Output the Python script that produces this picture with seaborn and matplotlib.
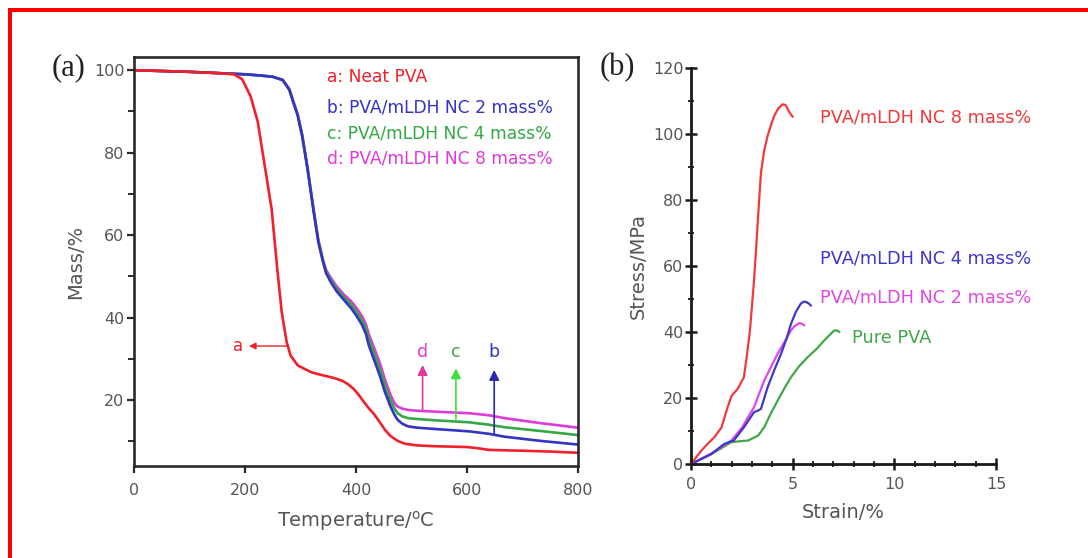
import numpy as np
import pandas as pd
import matplotlib
matplotlib.use("Agg")
import matplotlib.pyplot as plt
from matplotlib.lines import Line2D
from matplotlib.ticker import MultipleLocator
import seaborn as sns

# ---- (a) TGA curves: temperature (°C) vs residual mass (%) ----
temp_a = [0, 50, 100, 150, 180, 195, 210, 223, 235, 248, 258, 266, 275, 282, 295,
          320, 340, 359, 375, 385, 395, 404, 415, 423, 433, 443, 452, 462, 475,
          488, 510, 540, 600, 620, 640, 700, 750, 800]
mass_a = [100, 99.8, 99.6, 99.3, 99.0, 97.8, 93.7, 87.5, 77.3, 66.3, 52.0, 41.5, 34.1,
          30.8, 28.4, 26.7, 26.0, 25.4, 24.7, 23.9, 22.8, 21.4, 19.4, 18.0, 16.5, 14.6,
          12.8, 11.3, 10.1, 9.4, 9.0, 8.8, 8.6, 8.3, 7.9, 7.7, 7.5, 7.2]

temp_b = [0, 50, 100, 150, 200, 229, 250, 268, 280, 287, 295, 303, 313, 323, 332, 340,
          346, 355, 365, 378, 391, 401, 411, 418, 423, 433, 443, 452, 462, 469, 475,
          484, 494, 510, 540, 604, 640, 668, 732, 800]
mass_b = [100, 99.8, 99.6, 99.3, 99.0, 98.7, 98.4, 97.6, 95.2, 92.2, 89.0, 84.0, 75.7,
          66.3, 58.4, 53.8, 50.8, 48.5, 46.4, 44.3, 42.3, 40.4, 38.2, 36.0, 33.3, 29.6,
          25.9, 22.0, 18.5, 16.5, 15.2, 14.2, 13.6, 13.3, 13.0, 12.4, 11.8, 11.1, 10.1, 9.2]

temp_c = temp_b
mass_c = [100, 99.8, 99.6, 99.3, 99.0, 98.7, 98.4, 97.6, 95.3, 92.3, 89.1, 84.2, 75.9,
          66.5, 58.7, 54.0, 51.2, 49.0, 47.0, 45.0, 43.2, 41.4, 39.3, 37.2, 34.8, 31.2,
          27.5, 23.6, 20.0, 18.0, 16.8, 16.0, 15.6, 15.4, 15.1, 14.6, 14.0, 13.4, 12.5, 11.5]

temp_d = temp_b
mass_d = [100, 99.8, 99.6, 99.3, 99.0, 98.7, 98.4, 97.7, 95.4, 92.5, 89.3, 84.4, 76.2,
          66.8, 59.0, 54.3, 51.6, 49.6, 47.6, 45.6, 44.0, 42.3, 40.3, 38.3, 36.0, 32.5,
          29.0, 25.0, 21.3, 19.3, 18.4, 17.9, 17.6, 17.4, 17.2, 16.8, 16.3, 15.6, 14.4, 13.3]

tga_labels = ["a: Neat PVA", "b: PVA/mLDH NC 2 mass%",
              "c: PVA/mLDH NC 4 mass%", "d: PVA/mLDH NC 8 mass%"]

# ---- (b) stress-strain curves ----
strain_8 = [0, 0.25, 0.5, 0.8, 1.15, 1.5, 1.8, 2.0, 2.3, 2.6, 2.75, 2.9, 3.0, 3.1, 3.2,
            3.3, 3.44, 3.6, 3.77, 3.95, 4.1, 4.3, 4.5, 4.65, 4.75, 4.85, 5.0]
stress_8 = [0, 2, 4, 6, 8.1, 11.1, 17.2, 20.7, 22.8, 26.3, 33, 40.5, 48, 55.7, 65,
            75, 88.3, 95, 99.5, 103, 105.6, 107.8, 109.0, 108.8, 107.6, 106.5, 105.2]

strain_4 = [0, 0.5, 1.0, 1.3, 1.64, 2.1, 2.6, 3.1, 3.3, 3.44, 3.77, 4.1, 4.43, 4.7,
            4.92, 5.15, 5.4, 5.55, 5.66, 5.8, 5.9]
stress_4 = [0, 1.5, 3, 4.5, 6.1, 7.1, 11.1, 15.7, 16.2, 16.7, 23.3, 28.5, 33.4, 38,
            42.5, 46, 48.6, 49.2, 49.1, 48.6, 48]

strain_2 = [0, 0.5, 1.0, 1.5, 2.0, 2.5, 3.1, 3.6, 4.26, 4.6, 4.92, 5.1, 5.33, 5.45, 5.57]
stress_2 = [0, 1.6, 3.2, 5.2, 7.2, 11, 17.2, 25.3, 33.4, 37, 40.5, 41.8, 42.7, 42.5, 42]

strain_0 = [0, 0.5, 1.0, 1.5, 1.97, 2.4, 2.8, 3.3, 3.6, 3.9, 4.26, 4.6, 4.92, 5.3,
            5.74, 6.2, 6.56, 6.85, 7.05, 7.2, 7.3]
stress_0 = [0, 1.5, 3, 4.8, 6.6, 6.9, 7.1, 8.6, 11.1, 15, 19.2, 23, 26.3, 29.5,
            32.4, 35, 37.5, 39.3, 40.5, 40.4, 40]

ss_labels = ["PVA/mLDH NC 8 mass%", "PVA/mLDH NC 4 mass%",
             "PVA/mLDH NC 2 mass%", "Pure PVA"]

# ---- colours ----
RED = "#f2202a"
BLUE = "#3434c4"
GREEN = "#34a844"
MAGENTA = "#e03ad8"
TXT = "#555555"

sns.set_theme(style="white")
plt.rcParams["font.family"] = ["DejaVu Sans"]
plt.rcParams["mathtext.default"] = "regular"

fig = plt.figure(figsize=(10.88, 5.58), dpi=100)
fig.patch.set_facecolor("white")

# red frame along top and left edges
fig.add_artist(Line2D([10 / 1088, 1], [1 - 10 / 558] * 2, color="#ff0000", lw=2.9,
                      solid_capstyle="butt", transform=fig.transFigure))
fig.add_artist(Line2D([10 / 1088] * 2, [0, 1 - 8 / 558], color="#ff0000", lw=2.9,
                      solid_capstyle="butt", transform=fig.transFigure))

# ================= panel (a) =================
ax1 = fig.add_axes([134 / 1088, 92 / 558, 444 / 1088, 409 / 558])
tga = pd.concat([
    pd.DataFrame({"T": temp_d, "M": mass_d, "s": tga_labels[3]}),
    pd.DataFrame({"T": temp_c, "M": mass_c, "s": tga_labels[2]}),
    pd.DataFrame({"T": temp_b, "M": mass_b, "s": tga_labels[1]}),
    pd.DataFrame({"T": temp_a, "M": mass_a, "s": tga_labels[0]}),
])
sns.lineplot(data=tga, x="T", y="M", hue="s", estimator=None, sort=False,
             palette={tga_labels[0]: RED, tga_labels[1]: BLUE,
                      tga_labels[2]: GREEN, tga_labels[3]: MAGENTA},
             lw=1.9, legend=False, ax=ax1)
ax1.set_xlim(0, 800)
ax1.set_ylim(4.0, 103.2)
ax1.set_xticks([0, 200, 400, 600, 800])
ax1.set_yticks([20, 40, 60, 80, 100])
ax1.yaxis.set_minor_locator(MultipleLocator(10))
for sp in ax1.spines.values():
    sp.set_color("#2a2a2a")
    sp.set_linewidth(1.9)
ax1.tick_params(axis="both", which="major", direction="out", length=5, width=1.6,
                color="#2a2a2a", labelsize=11.5, labelcolor=TXT)
ax1.tick_params(axis="x", which="major", pad=7, bottom=True)
ax1.tick_params(axis="y", which="major", pad=2, left=True)
ax1.tick_params(axis="y", which="minor", direction="out", length=4, width=1.4,
                color="#2a2a2a", left=True)
ax1.set_xlabel("Temperature/$^{o}$C", fontsize=14, color=TXT, labelpad=8)
ax1.set_ylabel("Mass/%", fontsize=14, color=TXT, labelpad=6)

for i, (lab, col) in enumerate(zip(tga_labels, [RED, BLUE, GREEN, MAGENTA])):
    ax1.text(348, [98.4, 90.9, 84.6, 78.6][i], lab, color=col, fontsize=12.3,
             va="center", ha="left")

# pointer to curve a
ax1.annotate("", xy=(207, 33.1), xytext=(276, 33.1),
             arrowprops=dict(arrowstyle="-|>", color=RED, lw=1.0,
                             mutation_scale=10, shrinkA=0, shrinkB=0))
ax1.text(188, 33.1, "a", color=RED, fontsize=12, ha="center", va="center")

# pointers to curves d, c, b
for x0, y0, y1, lab, col, tcol in [(520, 17.4, 28.5, "d", "#e03a98", "#e03ad8"),
                                   (580, 15.4, 27.7, "c", "#3de03d", GREEN),
                                   (649, 11.7, 27.3, "b", "#2828b4", BLUE)]:
    ax1.annotate("", xy=(x0, y1), xytext=(x0, y0),
                 arrowprops=dict(arrowstyle="-|>", color=col, lw=1.2,
                                 mutation_scale=15, shrinkA=0, shrinkB=0))
    ax1.text(x0, 31.6, lab, color=tcol, fontsize=12.5, ha="center", va="center")

fig.text(69 / 1088, 1 - 68 / 558, "(a)", fontsize=22, family="Liberation Serif",
         color="#222222", ha="center", va="center")

# ================= panel (b) =================
ax2 = fig.add_axes([691 / 1088, 94 / 558, 305 / 1088, 396 / 558])
ss = pd.concat([
    pd.DataFrame({"e": strain_0, "s": stress_0, "k": ss_labels[3]}),
    pd.DataFrame({"e": strain_2, "s": stress_2, "k": ss_labels[2]}),
    pd.DataFrame({"e": strain_4, "s": stress_4, "k": ss_labels[1]}),
    pd.DataFrame({"e": strain_8, "s": stress_8, "k": ss_labels[0]}),
])
sns.lineplot(data=ss, x="e", y="s", hue="k", estimator=None, sort=False,
             palette={ss_labels[0]: "#f03a3a", ss_labels[1]: "#4038cc",
                      ss_labels[2]: "#e048e0", ss_labels[3]: "#40a848"},
             lw=1.6, legend=False, ax=ax2)
ax2.set_xlim(0, 15)
ax2.set_ylim(0, 120)
ax2.set_xticks([0, 5, 10, 15])
ax2.set_yticks([0, 20, 40, 60, 80, 100, 120])
ax2.xaxis.set_minor_locator(MultipleLocator(1))
ax2.yaxis.set_minor_locator(MultipleLocator(10))
sns.despine(ax=ax2)
for side in ("left", "bottom"):
    ax2.spines[side].set_color("#1a1a1a")
    ax2.spines[side].set_linewidth(2.0)
ax2.tick_params(axis="both", which="major", direction="inout", length=9, width=1.8,
                color="#1a1a1a", labelsize=11.5, labelcolor=TXT, left=True, bottom=True)
ax2.tick_params(axis="both", which="minor", direction="inout", length=5, width=1.3,
                color="#1a1a1a", left=True, bottom=True)
ax2.tick_params(axis="y", which="major", pad=1)
ax2.tick_params(axis="x", which="major", pad=5)
ax2.set_xlabel("Strain/%", fontsize=14, color=TXT, labelpad=8)
ax2.set_ylabel("Stress/MPa", fontsize=14, color=TXT, labelpad=4)

for (x, y, lab, col) in [(6.35, 105.0, ss_labels[0], "#f03a3a"),
                         (6.35, 62.4, ss_labels[1], "#4038cc"),
                         (6.35, 50.6, ss_labels[2], "#e048e0"),
                         (7.9, 38.2, ss_labels[3], "#40a848")]:
    ax2.text(x, y, lab, color=col, fontsize=12.8, ha="left", va="center")

fig.text(617 / 1088, 1 - 68 / 558, "(b)", fontsize=22, family="Liberation Serif",
         color="#222222", ha="center", va="center")

fig.savefig("out.png", dpi=100, facecolor="white")
